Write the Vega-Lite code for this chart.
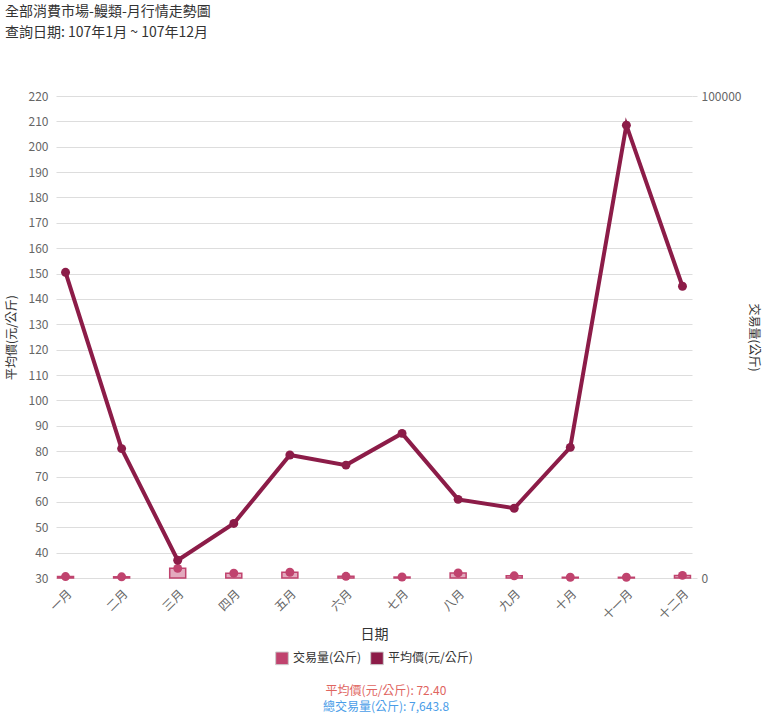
{
  "$schema": "https://vega.github.io/schema/vega-lite/v6.json",
  "padding": 5,
  "spacing": 16,
  "config": {
    "font": "Noto Sans CJK TC",
    "view": {"stroke": null},
    "axis": {"labelColor": "#666", "labelFontSize": 12, "titleFontWeight": "normal", "titleColor": "#333", "domain": false},
    "legend": {"orient": "bottom", "direction": "horizontal", "title": null, "symbolType": "square", "symbolSize": 160, "symbolStrokeColor": "#ccc", "symbolStrokeWidth": 1, "symbolOpacity": 1, "labelFontSize": 12, "labelColor": "#333", "columnPadding": 6, "offset": 9, "layout": {"bottom": {"anchor": "middle"}}}
  },
  "title": {
    "text": ["全部消費市場-鰻類-月行情走勢圖", "查詢日期: 107年1月 ~ 107年12月"],
    "anchor": "start",
    "fontSize": 14,
    "fontWeight": "normal",
    "color": "#333",
    "lineHeight": 21,
    "offset": 50
  },
  "datasets": {
    "monthly": [
      {"month": "一月", "price": 150.5, "volume": 300},
      {"month": "二月", "price": 81, "volume": 250},
      {"month": "三月", "price": 37, "volume": 2000},
      {"month": "四月", "price": 51.5, "volume": 1000},
      {"month": "五月", "price": 78.5, "volume": 1200},
      {"month": "六月", "price": 74.5, "volume": 350},
      {"month": "七月", "price": 87, "volume": 200},
      {"month": "八月", "price": 61, "volume": 1050},
      {"month": "九月", "price": 57.5, "volume": 450},
      {"month": "十月", "price": 81.5, "volume": 150},
      {"month": "十一月", "price": 208.5, "volume": 150},
      {"month": "十二月", "price": 145, "volume": 543.8}
    ],
    "footer": [
      {"row": 1, "label": "平均價(元/公斤): 72.40", "color": "#e0655f"},
      {"row": 2, "label": "總交易量(公斤): 7,643.8", "color": "#4a9de8"}
    ]
  },
  "resolve": {"legend": {"color": "independent"}, "scale": {"color": "independent"}},
  "vconcat": [
    {
      "width": 636,
      "height": 482,
      "data": {"name": "monthly"},
      "encoding": {
        "x": {
          "field": "month", "type": "ordinal", "sort": null,
          "scale": {"type": "point", "padding": 0.17},
          "axis": {"title": "日期", "labelAngle": -45, "ticks": false, "titleFontSize": 14, "labelPadding": 10, "titlePadding": 6}
        }
      },
      "layer": [
        {
          "encoding": {
            "y": {
              "field": "volume", "type": "quantitative",
              "scale": {"domain": [0, 100000], "nice": false},
              "axis": {"orient": "right", "title": "交易量(公斤)", "format": "d", "values": [0, 100000], "grid": false, "tickColor": "#ddd", "titleFontSize": 12, "titlePadding": 6, "labelPadding": 4}
            }
          },
          "layer": [
            {
              "mark": {"type": "bar", "size": 16, "fillOpacity": 0.45, "stroke": "#c0436e", "strokeWidth": 1.5},
              "encoding": {
                "color": {
                  "datum": "交易量(公斤)", "type": "nominal",
                  "scale": {"domain": ["交易量(公斤)", "平均價(元/公斤)"], "range": ["#c0436e", "#8c1c48"]},
                  "legend": {"title": null}
                }
              }
            },
            {
              "mark": {"type": "point", "filled": true, "shape": "circle", "size": 80, "opacity": 1},
              "encoding": {"color": {"datum": "交易量(公斤)", "type": "nominal", "legend": {"title": null}}}
            }
          ]
        },
        {
          "encoding": {
            "y": {
              "field": "price", "type": "quantitative",
              "scale": {"domain": [30, 220], "nice": false, "zero": false},
              "axis": {"orient": "left", "title": "平均價(元/公斤)", "values": [30, 40, 50, 60, 70, 80, 90, 100, 110, 120, 130, 140, 150, 160, 170, 180, 190, 200, 210, 220], "grid": true, "gridColor": "#ddd", "ticks": false, "titleFontSize": 12, "titlePadding": 10, "labelPadding": 8}
            }
          },
          "layer": [
            {
              "mark": {"type": "line", "color": "#8c1c48", "strokeWidth": 4}
            },
            {
              "mark": {"type": "point", "filled": true, "shape": "circle", "size": 80, "opacity": 1},
              "encoding": {"color": {"datum": "平均價(元/公斤)", "type": "nominal", "legend": {"title": null}}}
            }
          ]
        }
      ],
      "resolve": {"scale": {"y": "independent"}}
    },
    {
      "width": 660,
      "height": 32,
      "data": {"name": "footer"},
      "mark": {"type": "text", "fontSize": 12},
      "encoding": {
        "y": {"field": "row", "type": "ordinal", "axis": null},
        "text": {"field": "label"},
        "color": {"field": "color", "type": "nominal", "scale": null}
      }
    }
  ]
}
